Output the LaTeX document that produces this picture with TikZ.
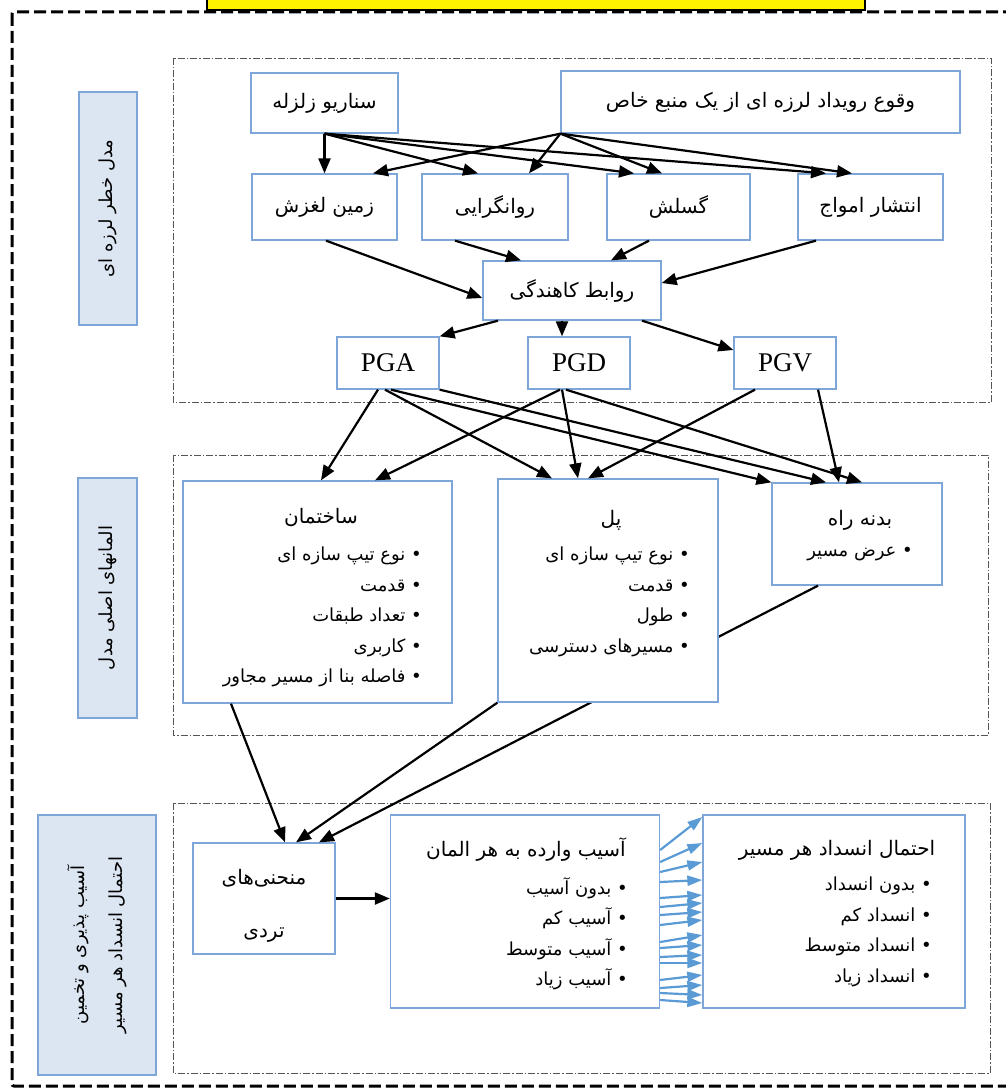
\documentclass[tikz,border=0pt]{standalone}
\usepackage{fontspec}
\setmainfont{Liberation Serif}
\newfontfamily\fa[Script=Arabic]{DejaVu Sans}
\TeXXeTstate=1
\usetikzlibrary{arrows.meta}
\newcommand\fatxt[1]{{\fa\beginR #1\endR}}
\definecolor{boxblue}{HTML}{7EA6D8}
\definecolor{lblfill}{HTML}{DCE6F2}
\definecolor{arrblue}{HTML}{5B9BD5}
\definecolor{framegray}{HTML}{555555}
\begin{document}
\begin{tikzpicture}[x=1pt,y={(0pt,-1pt)},
  box/.style={draw=boxblue, line width=1.3pt, fill=white, inner sep=0pt, font=\fontsize{20}{24}\selectfont},
  lbl/.style={draw=boxblue, line width=1.3pt, fill=lblfill, inner sep=0pt},
  sect/.style={draw=framegray, line width=0.9pt, dash pattern=on 7pt off 2pt on 1.5pt off 2pt},
  arr/.style={-{Triangle[length=15pt,width=12pt]}, line width=2.2pt},
  barr/.style={draw=arrblue, -{Triangle[length=15pt,width=10pt]}, line width=2.2pt},
  ttl/.style={inner sep=0pt, font=\fontsize{20}{24}\selectfont},
  lst/.style={font=\fontsize{18}{30.5}\selectfont, align=right, inner sep=0pt, anchor=north east},
  vtxt/.style={inner sep=0pt, rotate=90, font=\fontsize{18}{38}\selectfont, align=center},
  pg/.style={box, font=\fontsize{27}{30}\selectfont}
]
\useasboundingbox (0,0) rectangle (1006,1089);
% outer frame and title bar
\draw[line width=3pt, dash pattern=on 12pt off 5pt, rounded corners=2pt] (12,12) rectangle (1040,1086);
\draw[fill=yellow, line width=1.3pt] (207,-30) rectangle (865,10);
% section frames
\draw[sect] (173,58) rectangle (991,402);
\draw[sect] (173,455) rectangle (988,735);
\draw[sect] (173,803) rectangle (990,1073);
% left labels
\node[lbl, minimum width=58pt, minimum height=233pt] (l1) at (108,208.5) {};
\node[vtxt] (l1t) at (l1) {\fatxt{مدل خطر لرزه ای}};
\node[lbl, minimum width=59pt, minimum height=240pt] (l2) at (107.5,598) {};
\node[vtxt] (l2t) at (l2) {\fatxt{المانهای اصلی مدل}};
\node[lbl, minimum width=118pt, minimum height=260pt] (l3) at (97,945) {};
\node[vtxt] (l3t) at (l3) {\fatxt{آسیب پذیری و تخمین}\\\fatxt{احتمال انسداد هر مسیر}};
% top section
\node[box, minimum width=147pt, minimum height=60pt] (scen) at (324.5,103) {\fatxt{سناریو زلزله}};
\node[box, minimum width=399pt, minimum height=62pt] (occ) at (760.5,102) {\fatxt{وقوع رویداد لرزه ای از یک منبع خاص}};
\node[box, minimum width=145pt, minimum height=66pt] (land) at (324.5,207) {\fatxt{زمین لغزش}};
\node[box, minimum width=146pt, minimum height=66pt] (liq) at (495,207) {\fatxt{روانگرایی}};
\node[box, minimum width=143pt, minimum height=66pt] (fault) at (678.5,207) {\fatxt{گسلش}};
\node[box, minimum width=145pt, minimum height=66pt] (wave) at (870.5,207) {\fatxt{انتشار امواج}};
\node[box, minimum width=178pt, minimum height=59pt] (att) at (572,290.5) {\fatxt{روابط کاهندگی}};
\node[pg, minimum width=102pt, minimum height=52pt] (pga) at (388,363) {PGA};
\node[pg, minimum width=102pt, minimum height=52pt] (pgd) at (579,363) {PGD};
\node[pg, minimum width=102pt, minimum height=52pt] (pgv) at (785,363) {PGV};
\foreach \t/\dx in {land/0, liq/-17, fault/-44.5, wave/-44.5}
  \draw[arr] (scen.south) -- ([xshift=\dx pt]\t.north);
\foreach \t/\dx in {land/48.5, liq/34, fault/-16.5, wave/-18.5}
  \draw[arr] (occ.south west) -- ([xshift=\dx pt]\t.north);
\draw[arr] ([xshift=1.5pt]land.south) -- ([yshift=-7.5pt]att.west);
\draw[arr] ([xshift=-40pt]liq.south) -- ([xshift=-51pt]att.north);
\draw[arr] ([xshift=-29.5pt]fault.south) -- ([xshift=39pt]att.north);
\draw[arr] ([xshift=-54.5pt]wave.south) -- ([yshift=7.5pt]att.east);
\draw[arr] ([xshift=-74pt]att.south) -- (pga.north east);
\draw[arr] ([xshift=-10pt]att.south) -- ([xshift=-17pt]pgd.north);
\draw[arr] ([xshift=70pt]att.south) -- ([yshift=13pt]pgv.west);
% middle section boxes
\node[box, minimum width=170pt, minimum height=102pt] (road) at (857,534) {};
\node[box, minimum width=142pt, minimum height=111pt] (frag) at (264,898.5) {};
\draw[arr] ([xshift=-39pt]road.south) -- ([xshift=55pt]frag.north);
\node[box, minimum width=269pt, minimum height=222pt] (bld) at (317.5,592) {};
\node[box, minimum width=220pt, minimum height=223pt] (brg) at (608,590.5) {};
\node[ttl] (bldt) at (321,518) {\fatxt{ساختمان}};
\node[lst] (bldl) at (422,547) {\fatxt{• نوع تیپ سازه ای}\\\fatxt{• قدمت}\\\fatxt{• تعداد طبقات}\\\fatxt{• کاربری}\\\fatxt{• فاصله بنا از مسیر مجاور}};
\node[ttl] (brgt) at (611,520) {\fatxt{پل}};
\node[lst] (brgl) at (690,547) {\fatxt{• نوع تیپ سازه ای}\\\fatxt{• قدمت}\\\fatxt{• طول}\\\fatxt{• مسیرهای دسترسی}};
\node[ttl] (roadt) at (860,520) {\fatxt{بدنه راه}};
\node[lst] (roadl) at (913,547) {\fatxt{• عرض مسیر}};
% arrows to middle section
\draw[arr] ([xshift=-10pt]pga.south) -- ([xshift=3.5pt]bld.north);
\draw[arr] ([xshift=-19pt]pgd.south) -- ([xshift=57.5pt]bld.north);
\draw[arr] ([xshift=-3pt]pga.south) -- ([xshift=-56pt]brg.north);
\draw[arr] ([xshift=-17pt]pgd.south) -- ([xshift=-30pt]brg.north);
\draw[arr] ([xshift=-30pt]pgv.south) -- ([xshift=-20pt]brg.north);
\draw[arr] ([xshift=3pt]pga.south) -- (road.north west);
\draw[arr] (pga.south east) -- ([xshift=-31pt]road.north);
\draw[arr] ([xshift=-13pt]pgd.south) -- ([xshift=5pt]road.north);
\draw[arr] ([xshift=33pt]pgv.south) -- ([xshift=-18pt]road.north);
% bottom section
\node[inner sep=0pt, align=center, font=\fontsize{20}{53}\selectfont] (fragt) at (264,906) {\fatxt{منحنی‌های}\\\fatxt{تردی}};
\node[box, minimum width=269pt, minimum height=193pt] (dmg) at (525,911.5) {};
\node[box, minimum width=262pt, minimum height=193pt] (blk) at (834,911.5) {};
\node[ttl] (dmgt) at (526,850) {\fatxt{آسیب وارده به هر المان}};
\node[lst] (dmgl) at (628,877) {\fatxt{• بدون آسیب}\\\fatxt{• آسیب کم}\\\fatxt{• آسیب متوسط}\\\fatxt{• آسیب زیاد}};
\node[ttl] (blkt) at (837,850) {\fatxt{احتمال انسداد هر مسیر}};
\node[lst] (blkl) at (932,877) {\fatxt{• بدون انسداد}\\\fatxt{• انسداد کم}\\\fatxt{• انسداد متوسط}\\\fatxt{• انسداد زیاد}};
\draw[arr] ([xshift=-86.5pt]bld.south) -- ([xshift=21pt]frag.north);
\draw[arr] (brg.south west) -- ([xshift=32pt]frag.north);
\draw[arr] (frag.east) -- (frag.east -| dmg.west);
\foreach \s/\e in {850/817, 862/843, 872/862, 882/880, 898/895, 907/903, 915/912, 925/920, 942/935, 948/945, 957/955, 963/963, 980/975, 988/985, 993/995, 1000/1003}
  \draw[barr] (dmg.east |- 0,\s) -- (blk.west |- 0,\e);
\end{tikzpicture}
\end{document}
